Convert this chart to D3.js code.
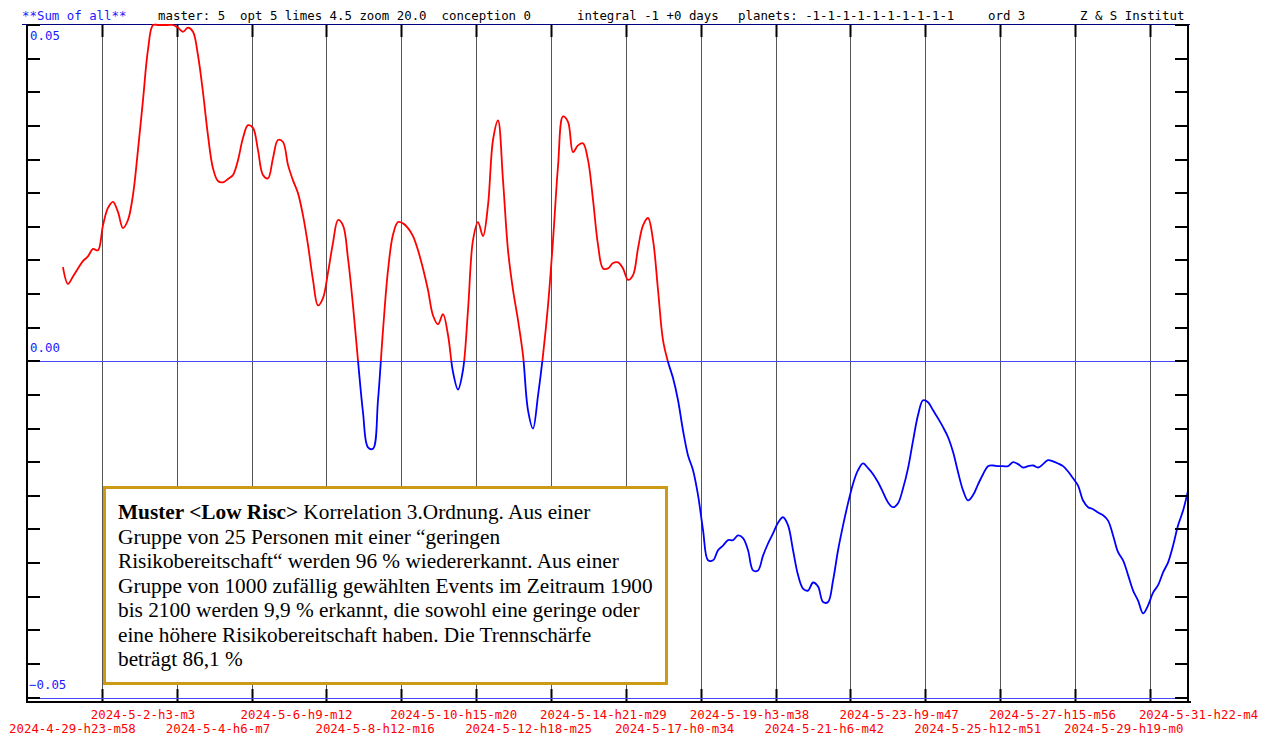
<!DOCTYPE html>
<html>
<head>
<meta charset="utf-8">
<script src="https://cdn.jsdelivr.net/npm/d3@7"></script>
<style>
  body { margin: 0; background: #fff; }
  svg { display: block; }
  .mono { font-family: "DejaVu Sans Mono", monospace; font-size: 12.4px; white-space: pre; }
  .note { font-family: "Liberation Serif", "Times New Roman", serif; font-size: 21.3px; fill: #000; }
</style>
</head>
<body>
<div id="root"></div>
<script>
const width = 1262;
const height = 735;

// header pieces
const headerItems = [
    {text: '**Sum of all**', x: 22, color: '#1a1aff'},
    {text: 'master: 5  opt 5 limes 4.5 zoom 20.0  conception 0', x: 158, color: '#000'},
    {text: 'integral -1 +0 days', x: 577, color: '#000'},
    {text: 'planets: -1-1-1-1-1-1-1-1-1-1', x: 738, color: '#000'},
    {text: 'ord 3', x: 988, color: '#000'},
    {text: 'Z & S Institut', x: 1080, color: '#000'}
];

// x tick labels (one per grid step)
const tickLabels = [
    '2024-4-29-h23-m58', '2024-5-2-h3-m3', '2024-5-4-h6-m7', '2024-5-6-h9-m12',
    '2024-5-8-h12-m16', '2024-5-10-h15-m20', '2024-5-12-h18-m25', '2024-5-14-h21-m29',
    '2024-5-17-h0-m34', '2024-5-19-h3-m38', '2024-5-21-h6-m42', '2024-5-23-h9-m47',
    '2024-5-25-h12-m51', '2024-5-27-h15-m56', '2024-5-29-h19-m0', '2024-5-31-h22-m4'
];
const yLabels = [0.05, 0.00, -0.05];
const yStep = 0.005;

// series: one value every stepMinutes from seriesStart
const seriesStart = new Date(2024, 4, 1, 0, 30);
const stepMinutes = 204.7;
const values = [
    0.0140, 0.0115, 0.0126, 0.0138, 0.0149, 0.0156, 0.0167, 0.0165, 0.0202, 0.0228,
    0.0237, 0.0222, 0.0198, 0.0210, 0.0247, 0.0314, 0.0388, 0.0463, 0.0500, 0.0500,
    0.0500, 0.0500, 0.0500, 0.0496, 0.0490, 0.0496, 0.0490, 0.0455, 0.0400, 0.0336,
    0.0287, 0.0268, 0.0266, 0.0271, 0.0277, 0.0299, 0.0332, 0.0351, 0.0347, 0.0314,
    0.0277, 0.0272, 0.0302, 0.0329, 0.0326, 0.0292, 0.0269, 0.0250, 0.0217, 0.0173,
    0.0121, 0.0083, 0.0094, 0.0132, 0.0176, 0.0210, 0.0202, 0.0153, 0.0083, 0.0001,
    -0.0076, -0.0128, -0.0130, -0.0058, 0.0046, 0.0135, 0.0188, 0.0207, 0.0205, 0.0198,
    0.0186, 0.0165, 0.0138, 0.0106, 0.0068, 0.0055, 0.0070, 0.0039, -0.0016, -0.0042,
    -0.0013, 0.0076, 0.0180, 0.0207, 0.0186, 0.0232, 0.0329, 0.0358, 0.0269, 0.0165,
    0.0106, 0.0061, 0.0009, -0.0073, -0.0100, -0.0051, 0.0009, 0.0083, 0.0180, 0.0290,
    0.0364, 0.0356, 0.0311, 0.0321, 0.0324, 0.0299, 0.0240, 0.0173, 0.0138, 0.0138,
    0.0146, 0.0147, 0.0138, 0.0121, 0.0128, 0.0168, 0.0202, 0.0213, 0.0180, 0.0106,
    0.0031, -0.0001, -0.0025, -0.0058, -0.0103, -0.0140, -0.0162, -0.0199, -0.0251, -0.0296,
    -0.0296, -0.0281, -0.0274, -0.0266, -0.0266, -0.0259, -0.0263, -0.0281, -0.0311, -0.0311,
    -0.0289, -0.0271, -0.0256, -0.0240, -0.0232, -0.0244, -0.0281, -0.0318, -0.0338, -0.0341,
    -0.0329, -0.0335, -0.0358, -0.0358, -0.0326, -0.0281, -0.0244, -0.0211, -0.0182, -0.0162,
    -0.0152, -0.0159, -0.0168, -0.0180, -0.0195, -0.0210, -0.0217, -0.0211, -0.0189, -0.0159,
    -0.0118, -0.0080, -0.0058, -0.0061, -0.0073, -0.0085, -0.0098, -0.0113, -0.0135, -0.0165,
    -0.0192, -0.0207, -0.0199, -0.0183, -0.0168, -0.0156, -0.0155, -0.0156, -0.0156, -0.0156,
    -0.0150, -0.0153, -0.0158, -0.0156, -0.0155, -0.0158, -0.0153, -0.0147, -0.0149, -0.0152,
    -0.0156, -0.0164, -0.0174, -0.0185, -0.0207, -0.0217, -0.0220, -0.0225, -0.0229, -0.0237,
    -0.0259, -0.0284, -0.0296, -0.0318, -0.0341, -0.0356, -0.0375, -0.0363, -0.0344, -0.0333,
    -0.0314, -0.0299, -0.0274, -0.0244, -0.0222, -0.0192
];

// note box text, first part of line 1 is bold
const noteBold = 'Muster <Low Risc>';
const noteLines = [
    ' Korrelation 3.Ordnung. Aus einer',
    'Gruppe von 25 Personen mit einer \u201Cgeringen',
    'Risikobereitschaft\u201C werden 96 % wiedererkannt. Aus einer',
    'Gruppe von 1000 zuf\u00E4llig gew\u00E4hlten Events im Zeitraum 1900',
    'bis 2100 werden 9,9 % erkannt, die sowohl eine geringe oder',
    'eine h\u00F6here Risikobereitschaft haben. Die Trennsch\u00E4rfe',
    'betr\u00E4gt 86,1 %'
];

const parseLabel = s => {
    const m = s.match(/(\d+)-(\d+)-(\d+)-h(\d+)-m(\d+)/);
    return new Date(+m[1], +m[2] - 1, +m[3], +m[4], +m[5]);
};
const tickDates = tickLabels.map(parseLabel);

const plotLeft = 27, plotRight = 1188, plotTop = 25, plotBottom = 702;

const x = d3.scaleTime()
    .domain([tickDates[0], new Date(2024, 5, 2, 0, 4)])
    .range([plotLeft, plotRight]);
const y = d3.scaleLinear()
    .domain([-0.05, 0.05])
    .range([697.5, plotTop]);

const svg = d3.select('#root')
    .append('svg')
    .attr('width', width)
    .attr('height', height);

// header
svg.append('g')
    .selectAll('text')
    .data(headerItems)
    .join('text')
    .attr('class', 'mono')
    .attr('x', d => d.x)
    .attr('y', 20)
    .attr('fill', d => d.color)
    .text(d => d.text);

svg.append('line')
    .attr('x1', 22).attr('x2', plotRight + 2)
    .attr('y1', 24.5).attr('y2', 24.5)
    .attr('stroke', '#000080')
    .attr('stroke-width', 1);

// vertical grid lines
const gridDates = tickDates.slice(1);
const gx = d => Math.round(x(d)) + 0.5;
const grid = svg.append('g');
grid.selectAll('line.grid')
    .data(gridDates)
    .join('line')
    .attr('class', 'grid')
    .attr('x1', gx).attr('x2', gx)
    .attr('y1', plotTop).attr('y2', plotBottom)
    .attr('stroke', '#555')
    .attr('stroke-width', 1);
grid.selectAll('line.tickTop')
    .data(gridDates)
    .join('line')
    .attr('class', 'tickTop')
    .attr('x1', gx).attr('x2', gx)
    .attr('y1', plotTop).attr('y2', plotTop + 12)
    .attr('stroke', '#000')
    .attr('stroke-width', 2);
grid.selectAll('line.tickBot')
    .data(gridDates)
    .join('line')
    .attr('class', 'tickBot')
    .attr('x1', gx).attr('x2', gx)
    .attr('y1', plotBottom - 13).attr('y2', plotBottom)
    .attr('stroke', '#000')
    .attr('stroke-width', 2);

// blue reference lines at 0 and -0.05
svg.append('g')
    .selectAll('line')
    .data([0, -0.05])
    .join('line')
    .attr('x1', plotLeft).attr('x2', plotRight)
    .attr('y1', d => Math.round(y(d)) + 0.5)
    .attr('y2', d => Math.round(y(d)) + 0.5)
    .attr('stroke', '#4646ff')
    .attr('stroke-width', 1);

// curve, red above zero, blue below
const series = values.map((v, i) => ({
    date: new Date(seriesStart.getTime() + i * stepMinutes * 60000),
    value: v
}));
const line = d3.line()
    .x(d => x(d.date))
    .y(d => y(d.value))
    .curve(d3.curveCatmullRom);

const defs = svg.append('defs');
defs.append('clipPath').attr('id', 'clip-pos')
    .append('rect')
    .attr('x', 0).attr('y', 0)
    .attr('width', width).attr('height', y(0));
defs.append('clipPath').attr('id', 'clip-neg')
    .append('rect')
    .attr('x', 0).attr('y', y(0))
    .attr('width', width).attr('height', height - y(0));

svg.append('path')
    .datum(series)
    .attr('d', line)
    .attr('fill', 'none')
    .attr('stroke', '#ff0000')
    .attr('stroke-width', 1.8)
    .attr('clip-path', 'url(#clip-pos)');
svg.append('path')
    .datum(series)
    .attr('d', line)
    .attr('fill', 'none')
    .attr('stroke', '#0000ff')
    .attr('stroke-width', 1.8)
    .attr('clip-path', 'url(#clip-neg)');

// axes frame
const yTicks = d3.range(-10, 11).map(k => k * yStep);
const axis = svg.append('g').attr('stroke', '#000').attr('stroke-width', 2);
axis.append('line').attr('x1', plotLeft).attr('x2', plotLeft).attr('y1', plotTop).attr('y2', plotBottom + 1);
axis.append('line').attr('x1', plotRight).attr('x2', plotRight).attr('y1', plotTop).attr('y2', plotBottom + 1);
axis.append('line').attr('x1', plotLeft - 1).attr('x2', plotRight + 3).attr('y1', plotBottom).attr('y2', plotBottom);
axis.selectAll('line.yl')
    .data(yTicks)
    .join('line')
    .attr('class', 'yl')
    .attr('x1', plotLeft).attr('x2', plotLeft + 13)
    .attr('y1', d => Math.round(y(d)))
    .attr('y2', d => Math.round(y(d)));
axis.selectAll('line.yr')
    .data(yTicks)
    .join('line')
    .attr('class', 'yr')
    .attr('x1', plotRight - 13).attr('x2', plotRight)
    .attr('y1', d => Math.round(y(d)))
    .attr('y2', d => Math.round(y(d)));

// y labels
svg.append('g')
    .selectAll('text')
    .data(yLabels)
    .join('text')
    .attr('class', 'mono')
    .attr('x', d => d < 0 ? 29 : 30)
    .attr('y', (d, i) => i === 0 ? y(d) + 15 : y(d) - 9)
    .attr('fill', '#1a1aff')
    .text(d => d3.format('.2f')(d));

// x labels, alternating rows
svg.append('g')
    .selectAll('text')
    .data(tickLabels)
    .join('text')
    .attr('class', 'mono')
    .attr('x', (d, i) => x(tickDates[i]) - (i === 0 ? 18 : 11))
    .attr('y', (d, i) => i % 2 === 0 ? 733 : 719)
    .attr('fill', '#ff0000')
    .text(d => d);

// note box
svg.append('rect')
    .attr('x', 104.5).attr('y', 487.5)
    .attr('width', 562).attr('height', 196)
    .attr('fill', '#fff')
    .attr('stroke', '#cc9a14')
    .attr('stroke-width', 3);

const note = svg.append('text')
    .attr('class', 'note')
    .attr('x', 118)
    .attr('y', 519);
note.append('tspan')
    .attr('font-weight', 'bold')
    .text(noteBold);
note.selectAll('tspan.l')
    .data(noteLines)
    .join('tspan')
    .attr('class', 'l')
    .attr('x', (d, i) => i === 0 ? null : 118)
    .attr('dy', (d, i) => i === 0 ? 0 : 24.5)
    .style('white-space', 'pre')
    .text(d => d);
</script>
</body>
</html>
